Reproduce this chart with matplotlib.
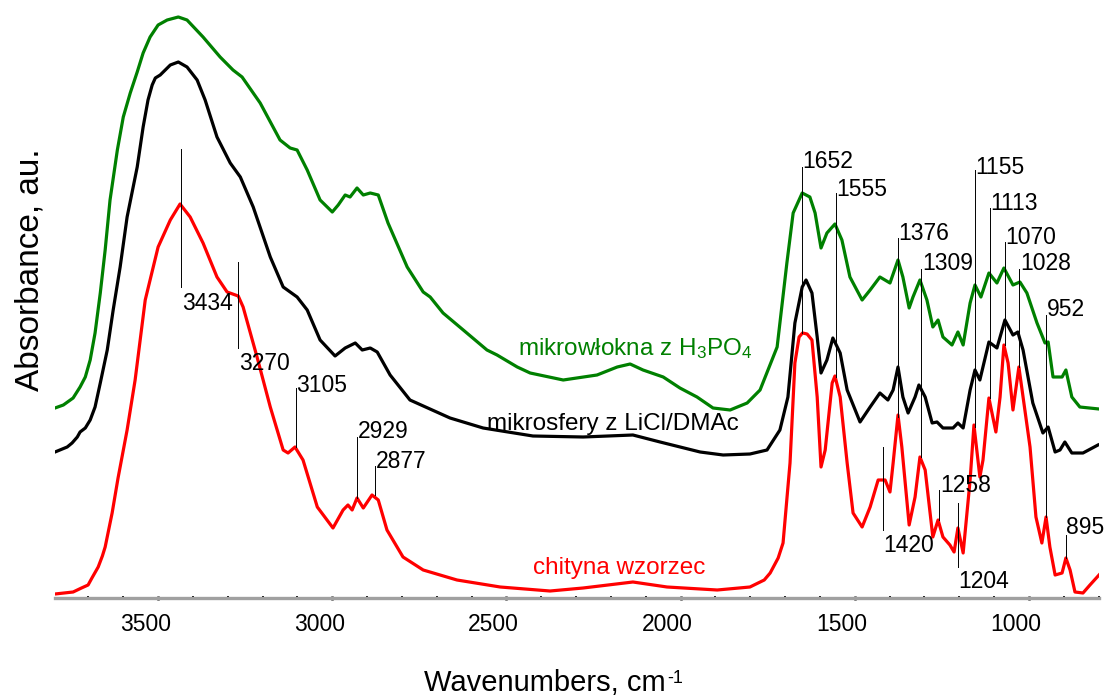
import numpy as np
import matplotlib
matplotlib.use("Agg")
import matplotlib.pyplot as plt
import matplotlib.transforms as mtransforms
from matplotlib.ticker import MultipleLocator

plt.rcParams['font.family'] = ['Liberation Sans', 'DejaVu Sans']
plt.rcParams['mathtext.fontset'] = 'custom'
plt.rcParams['mathtext.rm'] = 'Liberation Sans'
plt.rcParams['mathtext.default'] = 'regular'

# chityna wzorzec (red)
red_wn = [3796, 3770, 3744, 3720, 3701, 3690, 3672, 3660, 3652, 3632, 3615, 3589, 3566,
          3537, 3500, 3465, 3437, 3408, 3371, 3331, 3302, 3270, 3256, 3216, 3178, 3141,
          3127, 3107, 3084, 3043, 2998, 2969, 2955, 2943, 2929, 2911, 2886, 2868, 2843,
          2797, 2739, 2642, 2518, 2375, 2280, 2137, 2039, 1895, 1801, 1760, 1743, 1720,
          1706, 1686, 1672, 1660, 1650, 1637, 1623, 1608, 1597, 1585, 1565, 1557, 1542,
          1522, 1505, 1479, 1456, 1433, 1413, 1399, 1390, 1376, 1365, 1344, 1327, 1313,
          1298, 1276, 1261, 1247, 1227, 1215, 1204, 1189, 1169, 1158, 1141, 1132, 1115,
          1095, 1083, 1072, 1060, 1046, 1029, 1017, 997, 980, 963, 951, 940, 925, 905,
          894, 882, 868, 845, 825, 799]
red_ab = [0.04, 0.05, 0.06, 0.10, 0.13, 0.20, 0.31, 0.42, 0.51, 0.85, 1.20, 1.68, 2.18,
          2.98, 3.51, 3.78, 3.94, 3.81, 3.55, 3.21, 3.06, 3.02, 2.91, 2.41, 1.91, 1.48,
          1.45, 1.51, 1.38, 0.91, 0.70, 0.88, 0.93, 0.88, 1.00, 0.90, 1.03, 0.98, 0.68,
          0.41, 0.28, 0.18, 0.11, 0.07, 0.10, 0.16, 0.11, 0.08, 0.11, 0.18, 0.25, 0.40,
          0.55, 1.35, 2.35, 2.61, 2.65, 2.64, 2.58, 2.01, 1.31, 1.48, 2.15, 2.22, 2.01,
          1.35, 0.85, 0.71, 0.91, 1.18, 1.18, 1.06, 1.35, 1.83, 1.51, 0.73, 1.01, 1.41,
          1.28, 0.61, 0.78, 0.61, 0.53, 0.46, 0.70, 0.45, 1.18, 1.73, 1.21, 1.38, 2.00,
          1.66, 2.01, 2.53, 2.35, 1.88, 2.31, 2.01, 1.51, 0.81, 0.55, 0.81, 0.51, 0.23,
          0.25, 0.40, 0.28, 0.06, 0.05, 0.13, 0.23]

# mikrosfery z LiCl/DMAc (black)
blk_wn = [3796, 3761, 3747, 3732, 3724, 3709, 3695, 3681, 3666, 3646, 3629, 3609, 3589,
          3560, 3543, 3529, 3517, 3508, 3494, 3465, 3442, 3417, 3388, 3365, 3331, 3293,
          3264, 3227, 3178, 3141, 3101, 3072, 3035, 2992, 2963, 2934, 2914, 2891, 2871,
          2834, 2777, 2662, 2567, 2424, 2280, 2137, 2059, 1944, 1878, 1801, 1752, 1715,
          1692, 1672, 1651, 1640, 1623, 1608, 1597, 1580, 1563, 1542, 1522, 1485, 1456,
          1428, 1405, 1390, 1376, 1362, 1347, 1327, 1316, 1298, 1278, 1264, 1247, 1218,
          1204, 1189, 1169, 1155, 1141, 1115, 1092, 1069, 1046, 1032, 1017, 989, 960,
          945, 925, 911, 897, 877, 845, 802]
blk_ab = [1.46, 1.51, 1.55, 1.61, 1.66, 1.70, 1.78, 1.91, 2.15, 2.48, 2.88, 3.31, 3.81,
          4.31, 4.71, 4.98, 5.13, 5.20, 5.23, 5.33, 5.36, 5.31, 5.18, 4.98, 4.61, 4.35,
          4.21, 3.91, 3.41, 3.11, 3.01, 2.88, 2.58, 2.42, 2.50, 2.55, 2.48, 2.50, 2.46,
          2.23, 1.98, 1.80, 1.70, 1.62, 1.61, 1.63, 1.56, 1.46, 1.43, 1.44, 1.48, 1.68,
          2.01, 2.75, 3.11, 3.18, 3.05, 2.61, 2.25, 2.38, 2.60, 2.45, 2.08, 1.76, 1.91,
          2.05, 1.98, 2.08, 2.31, 2.01, 1.85, 2.01, 2.13, 2.01, 1.75, 1.76, 1.70, 1.70,
          1.75, 1.70, 2.08, 2.28, 2.18, 2.56, 2.50, 2.78, 2.63, 2.66, 2.48, 1.95, 1.65,
          1.71, 1.46, 1.48, 1.56, 1.45, 1.45, 1.53]

# mikrowlokna z H3PO4 (green)
grn_wn = [3796, 3772, 3744, 3724, 3709, 3695, 3681, 3666, 3652, 3638, 3617, 3600, 3580,
          3560, 3543, 3523, 3500, 3474, 3442, 3417, 3371, 3322, 3285, 3259, 3207, 3150,
          3121, 3101, 3072, 3035, 3000, 2983, 2963, 2949, 2929, 2911, 2891, 2868, 2840,
          2785, 2739, 2719, 2682, 2624, 2556, 2527, 2469, 2432, 2337, 2240, 2182, 2145,
          2108, 2050, 2002, 1953, 1907, 1858, 1809, 1772, 1723, 1695, 1677, 1651, 1629,
          1614, 1597, 1580, 1557, 1537, 1514, 1479, 1456, 1428, 1399, 1376, 1362, 1344,
          1333, 1313, 1293, 1276, 1261, 1247, 1221, 1204, 1189, 1169, 1155, 1138, 1115,
          1092, 1072, 1046, 1026, 1006, 977, 954, 945, 931, 905, 894, 877, 854, 799]
grn_ab = [1.90, 1.93, 2.00, 2.11, 2.21, 2.38, 2.65, 3.05, 3.48, 3.98, 4.48, 4.81, 5.05,
          5.26, 5.45, 5.61, 5.73, 5.78, 5.81, 5.78, 5.61, 5.41, 5.28, 5.21, 4.95, 4.58,
          4.50, 4.48, 4.28, 3.98, 3.86, 3.93, 4.03, 4.01, 4.10, 4.03, 4.05, 4.03, 3.75,
          3.31, 3.06, 3.01, 2.85, 2.68, 2.48, 2.43, 2.31, 2.25, 2.18, 2.23, 2.31, 2.34,
          2.28, 2.21, 2.10, 2.01, 1.90, 1.88, 1.95, 2.08, 2.51, 3.35, 3.85, 4.05, 4.01,
          3.85, 3.50, 3.65, 3.74, 3.58, 3.21, 2.98, 3.08, 3.21, 3.15, 3.38, 3.21, 2.90,
          3.01, 3.18, 2.98, 2.71, 2.78, 2.61, 2.53, 2.66, 2.53, 2.95, 3.13, 3.01, 3.25,
          3.15, 3.30, 3.13, 3.16, 3.05, 2.75, 2.55, 2.56, 2.21, 2.21, 2.28, 2.01, 1.91,
          1.89]

# peak annotations: wavenumber, line top, line bottom, label centre height
peak_wn = [3434, 3270, 3105, 2929, 2877, 1652, 1555, 1376, 1309, 1155, 1113, 1070,
           1028, 952, 895, 1420, 1258, 1204]
peak_top = [4.49, 3.36, 2.10, 1.61, 1.32, 4.31, 4.05, 3.60, 3.29, 4.28, 3.90, 3.56,
            3.29, 2.83, 0.63, 1.51, 1.08, 0.95]
peak_bot = [3.11, 2.50, 1.51, 1.00, 1.03, 2.65, 2.21, 1.81, 1.41, 1.71, 2.00, 2.53,
            2.31, 0.81, 0.40, 0.68, 0.78, 0.31]
peak_lab_y = [2.95, 2.35, 2.13, 1.66, 1.37, 4.36, 4.09, 3.64, 3.34, 4.31, 3.95, 3.61,
              3.34, 2.88, 0.70, 0.53, 1.13, 0.16]

fig = plt.figure(figsize=(11.07, 6.97), dpi=100)
ax = fig.add_axes([55 / 1107, 99 / 697, 1044 / 1107, 598 / 697])

ax.plot(grn_wn, grn_ab, color='#008000', lw=2.3, solid_joinstyle='round')
ax.plot(blk_wn, blk_ab, color='black', lw=2.3, solid_joinstyle='round')
ax.plot(red_wn, red_ab, color='#ff0000', lw=2.3, solid_joinstyle='round')

for wn, top, bot, ly in zip(peak_wn, peak_top, peak_bot, peak_lab_y):
    ax.plot([wn, wn], [bot, top], color='black', lw=0.7)
    ax.annotate(str(wn), xy=(wn, ly), xytext=(0.5, 0), textcoords='offset points',
                ha='left', va='center', fontsize=16.5)

ax.text(2467, 2.43, 'mikrowłokna z H$_3$PO$_4$', color='#008000', fontsize=17.5,
        ha='left', va='baseline')
ax.text(2556, 1.68, 'mikrosfery z LiCl/DMAc', color='black', fontsize=17.5,
        ha='left', va='baseline')
ax.text(2424, 0.24, 'chityna wzorzec', color='#ff0000', fontsize=17.5,
        ha='left', va='baseline')

ax.set_xlim(3796, 799)
ax.set_ylim(0, 5.98)
ax.xaxis.set_major_locator(MultipleLocator(500))
ax.xaxis.set_minor_locator(MultipleLocator(100))
ax.set_yticks([])

for s in ['top', 'right', 'left']:
    ax.spines[s].set_visible(False)
ax.spines['bottom'].set_color('#a0a0a0')
ax.spines['bottom'].set_linewidth(2.4)
ax.tick_params(axis='x', which='major', direction='inout', length=3.5, width=1.8,
               color='black', labelsize=16.5, pad=9)
ax.tick_params(axis='x', which='minor', direction='inout', length=2.2, width=1.3,
               color='black')

shift = mtransforms.ScaledTranslation(-13 / 100, 0, fig.dpi_scale_trans)
for lab in ax.get_xticklabels():
    lab.set_transform(lab.get_transform() + shift)

xl = fig.text(545 / 1107, 1 - 691 / 697, 'Wavenumbers, cm', fontsize=21,
              ha='center', va='baseline')
ax.annotate('-1', xy=(1, 1), xycoords=xl, xytext=(1, -1), textcoords='offset points',
            ha='left', va='top', fontsize=13)
fig.text(30 / 1107, 1 - 270 / 697, 'Absorbance, au.', fontsize=24, rotation=90,
         ha='center', va='center')

fig.savefig('out.png', dpi=100)
